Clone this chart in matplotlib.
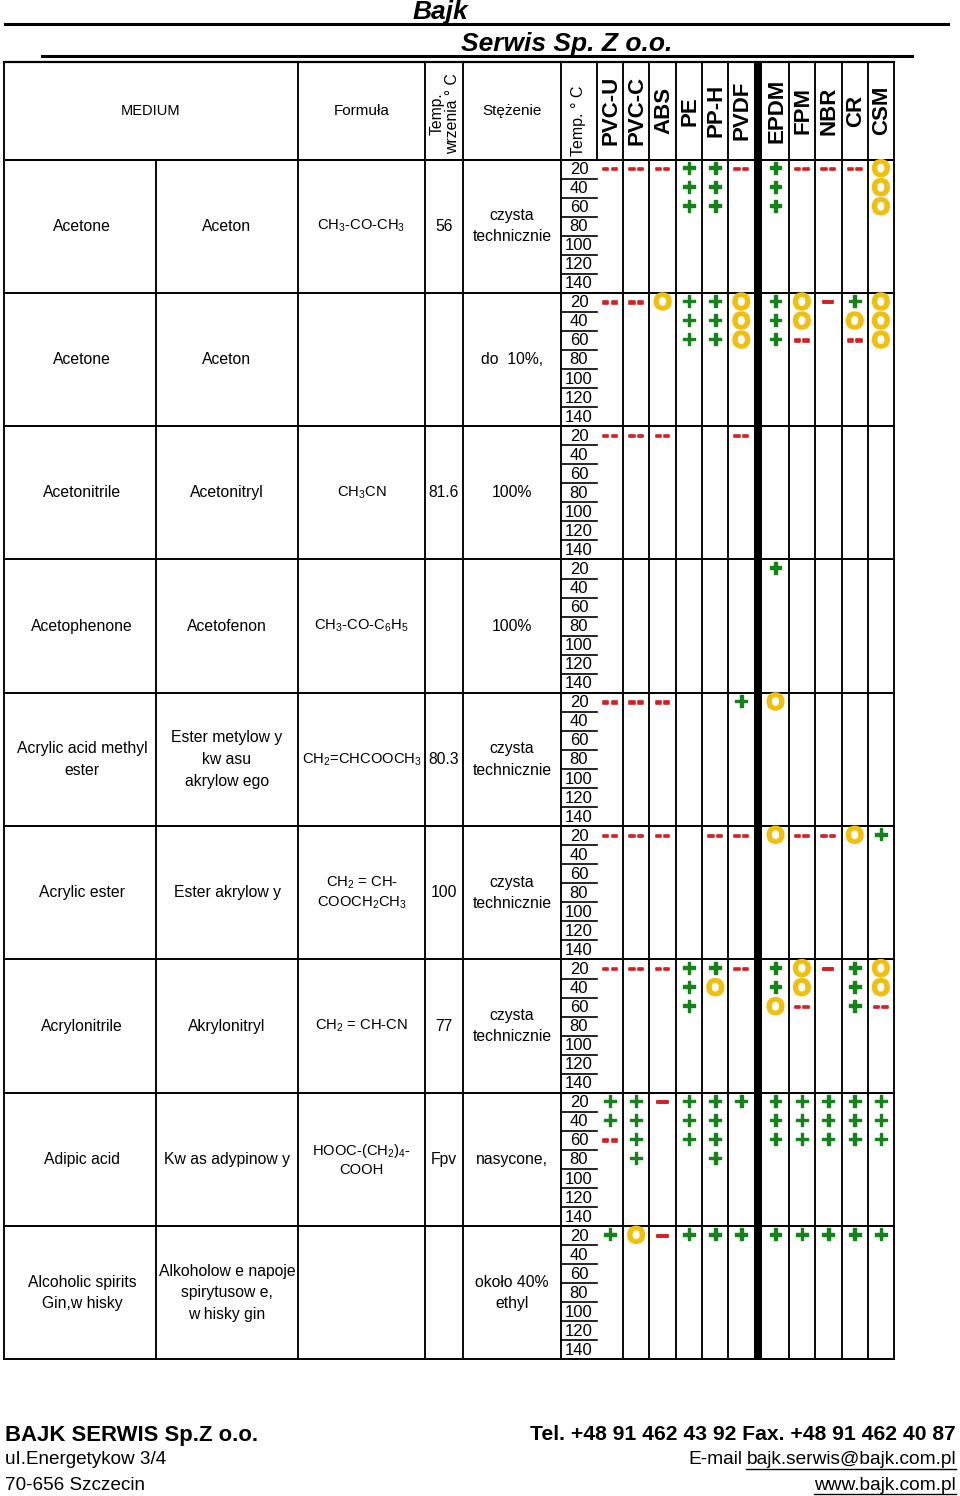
import matplotlib
matplotlib.use("Agg")
import matplotlib.pyplot as plt
import matplotlib.patheffects as pe
from matplotlib.patches import Rectangle

plt.rcParams['font.family'] = ['Liberation Sans', 'DejaVu Sans']
plt.rcParams['mathtext.fontset'] = 'custom'
plt.rcParams['mathtext.rm'] = 'Liberation Sans'
plt.rcParams['mathtext.it'] = 'Liberation Sans:italic'
plt.rcParams['mathtext.bf'] = 'Liberation Sans:bold'

# ---------------- data ----------------
materials = ["PVC-U", "PVC-C", "ABS", "PE", "PP-H", "PVDF", "EPDM", "FPM", "NBR", "CR", "CSM"]
temps = ["20", "40", "60", "80", "100", "120", "140"]

media_en = ["Acetone", "Acetone", "Acetonitrile", "Acetophenone",
            "Acrylic acid methyl\nester", "Acrylic ester", "Acrylonitrile",
            "Adipic acid", "Alcoholic spirits\nGin,w hisky"]
media_pl = ["Aceton", "Aceton", "Acetonitryl", "Acetofenon",
            "Ester metylow y\nkw asu\nakrylow ego", "Ester akrylow y", "Akrylonitryl",
            "Kw as adypinow y", "Alkoholow e napoje\nspirytusow e,\nw hisky gin"]
formulas = [r"CH$_{\mathrm{3}}$-CO-CH$_{\mathrm{3}}$", "", r"CH$_{\mathrm{3}}$CN",
            r"CH$_{\mathrm{3}}$-CO-C$_{\mathrm{6}}$H$_{\mathrm{5}}$",
            r"CH$_{\mathrm{2}}$=CHCOOCH$_{\mathrm{3}}$",
            "CH$_{\\mathrm{2}}$ = CH-\nCOOCH$_{\\mathrm{2}}$CH$_{\\mathrm{3}}$",
            r"CH$_{\mathrm{2}}$ = CH-CN",
            "HOOC-(CH$_{\\mathrm{2}}$)$_{\\mathrm{4}}$-\nCOOH", ""]
boiling = ["56", "", "81.6", "", "80.3", "100", "77", "Fpv", ""]
concentration = ["czysta\ntechnicznie", "do  10%,", "100%", "100%",
                 "czysta\ntechnicznie", "czysta\ntechnicznie", "czysta\ntechnicznie",
                 "nasycone,", "około 40%\nethyl"]

# ratings per medium: rows = temperatures (20, 40, 60, ...), columns = materials
ratings_acetone = [["--", "--", "--", "+", "+", "--", "+", "--", "--", "--", "O"],
                   ["", "", "", "+", "+", "", "+", "", "", "", "O"],
                   ["", "", "", "+", "+", "", "+", "", "", "", "O"]]
ratings_acetone10 = [["--", "--", "O", "+", "+", "O", "+", "O", "-", "+", "O"],
                     ["", "", "", "+", "+", "O", "+", "O", "", "O", "O"],
                     ["", "", "", "+", "+", "O", "+", "--", "", "--", "O"]]
ratings_acetonitrile = [["--", "--", "--", "", "", "--", "", "", "", "", ""]]
ratings_acetophenone = [["", "", "", "", "", "", "+", "", "", "", ""]]
ratings_methylacrylate = [["--", "--", "--", "", "", "+", "O", "", "", "", ""]]
ratings_acrylic_ester = [["--", "--", "--", "", "--", "--", "O", "--", "--", "O", "+"]]
ratings_acrylonitrile = [["--", "--", "--", "+", "+", "--", "+", "O", "-", "+", "O"],
                         ["", "", "", "+", "O", "", "+", "O", "", "+", "O"],
                         ["", "", "", "+", "", "", "O", "--", "", "+", "--"]]
ratings_adipic = [["+", "+", "-", "+", "+", "+", "+", "+", "+", "+", "+"],
                  ["+", "+", "", "+", "+", "", "+", "+", "+", "+", "+"],
                  ["--", "+", "", "+", "+", "", "+", "+", "+", "+", "+"],
                  ["", "+", "", "", "+", "", "", "", "", "", ""]]
ratings_spirits = [["+", "O", "-", "+", "+", "+", "+", "+", "+", "+", "+"]]
ratings = [ratings_acetone, ratings_acetone10, ratings_acetonitrile, ratings_acetophenone,
           ratings_methylacrylate, ratings_acrylic_ester, ratings_acrylonitrile,
           ratings_adipic, ratings_spirits]

# ---------------- layout ----------------
W, H = 960, 1496
fig = plt.figure(figsize=(9.6, 14.96), dpi=100)
ax = fig.add_axes([0, 0, 1, 1])
ax.set_xlim(0, W)
ax.set_ylim(H, 0)
ax.axis('off')

TOP = 62.0
HDR_BOT = 159.5
BLOCK_H = 133.33
SUB_H = BLOCK_H / 7
N = len(media_en)
BOT = HDR_BOT + N * BLOCK_H

x_left = 4
x_en_pl = 156
x_pl_f = 298
x_f_b = 425
x_b_c = 463
x_c_t = 561
x_t_m = 597
mat_edges_a = [597, 623, 649.3, 676, 702.3, 728.3, 754.3]
bar_w = 8.0
mat_edges_b = [762.3, 788.7, 815, 841.7, 867.7, 894]
x_right = 894

mat_centers = [(mat_edges_a[i] + mat_edges_a[i + 1]) / 2 for i in range(6)] + \
              [(mat_edges_b[i] + mat_edges_b[i + 1]) / 2 for i in range(5)]

LW = 1.35
def hline(y, x0, x1, lw=LW):
    ax.plot([x0, x1], [y, y], color='black', lw=lw, solid_capstyle='projecting')
def vline(x, y0, y1, lw=LW):
    ax.plot([x, x], [y0, y1], color='black', lw=lw, solid_capstyle='projecting')

# header lines
hline(TOP, x_left, x_right, 1.6)
hline(HDR_BOT, x_left, x_right, 1.4)
for x in [x_left, x_pl_f, x_f_b, x_b_c, x_c_t, x_t_m] + mat_edges_a[1:-1] + mat_edges_b[1:]:
    vline(x, TOP, HDR_BOT)
# body vertical lines
for x in [x_left, x_en_pl, x_pl_f, x_f_b, x_b_c, x_c_t] + mat_edges_a[1:-1] + mat_edges_b[1:]:
    vline(x, HDR_BOT, BOT)
# thick bar
ax.add_patch(Rectangle((mat_edges_a[-1], TOP), bar_w, BOT - TOP, color='black', lw=0))
# block lines
for b in range(N + 1):
    hline(HDR_BOT + b * BLOCK_H, x_left, x_right, 1.4)

# header text
hy = (TOP + HDR_BOT) / 2
ax.text((x_left + x_pl_f) / 2, hy, "MEDIUM", ha='center', va='center', fontsize=10.5)
ax.text((x_pl_f + x_f_b) / 2, hy, "Formuła", ha='center', va='center', fontsize=11)
ax.text((x_f_b + x_b_c) / 2 + 1, hy + 3, "Temp.\nwrzenia ° C", ha='center', va='center',
        rotation=90, fontsize=11.3, multialignment='center', linespacing=1.05)
ax.text((x_b_c + x_c_t) / 2, hy, "Stężenie", ha='center', va='center', fontsize=11)
ax.text((x_c_t + x_t_m) / 2, hy + 10, "Temp. ° C", ha='center', va='center',
        rotation=90, fontsize=11.5)
for cx, name in zip(mat_centers, materials):
    ax.text(cx + 1, hy, name, ha='center', va='center', rotation=90,
            fontsize=16, fontweight='bold')

# body text
col_cx = [(x_left + x_en_pl) / 2 + 2, (x_en_pl + x_pl_f) / 2, (x_pl_f + x_f_b) / 2,
          (x_f_b + x_b_c) / 2, (x_b_c + x_c_t) / 2]
FS = 11.3
RED, GREEN, YELLOW = '#d42020', '#16821a', '#f0c010'
for b in range(N):
    cy = HDR_BOT + (b + 0.5) * BLOCK_H
    cells = [media_en[b], media_pl[b], formulas[b], boiling[b], concentration[b]]
    for j, (cx, txt) in enumerate(zip(col_cx, cells)):
        if txt:
            if j == 2:
                ax.text(cx, cy, txt, ha='center', va='center', fontsize=10.6,
                        multialignment='center', linespacing=1.3)
            else:
                ax.text(cx, cy, txt, ha='center', va='center', fontsize=FS,
                        multialignment='center', linespacing=1.55)
    # temperature sub column
    for k, t in enumerate(temps):
        sy = HDR_BOT + b * BLOCK_H + (k + 0.5) * SUB_H
        ax.text((x_c_t + x_t_m) / 2, sy + 0.5, t, ha='center', va='center', fontsize=12)
        if k < len(temps) - 1:
            hline(HDR_BOT + b * BLOCK_H + (k + 1) * SUB_H, x_c_t, x_t_m, 1.2)
    # ratings
    for k, row in enumerate(ratings[b]):
        sy = HDR_BOT + b * BLOCK_H + (k + 0.5) * SUB_H
        for cx, s in zip(mat_centers, row):
            if s == "+":
                ax.text(cx, sy, "+", ha='center', va='center', fontsize=17,
                        fontweight='bold', color=GREEN,
                        path_effects=[pe.withStroke(linewidth=1.0, foreground=GREEN)])
            elif s == "O":
                ax.text(cx, sy + 0.5, "O", ha='center', va='center', fontsize=16.5,
                        fontweight='bold', color=YELLOW,
                        path_effects=[pe.withStroke(linewidth=1.6, foreground=YELLOW)])
            elif s == "--":
                for dx in (-4.2, 4.2):
                    ax.text(cx + dx, sy, "-", ha='center', va='center', fontsize=15,
                            fontweight='bold', color=RED,
                            path_effects=[pe.withStroke(linewidth=1.2, foreground=RED)])
            elif s == "-":
                ax.text(cx, sy, "–", ha='center', va='center', fontsize=15,
                        fontweight='bold', color=RED,
                        path_effects=[pe.withStroke(linewidth=1.4, foreground=RED)])

# titles
ax.text(440, 12, "Bajk", ha='center', va='center', fontsize=19, fontweight='bold',
        fontstyle='italic')
hline(24, 5, 948, 2.2)
ax.text(567, 44, "Serwis Sp. Z o.o.", ha='center', va='center', fontsize=19, fontweight='bold',
        fontstyle='italic')
hline(56, 42, 912, 2.2)

# footer
ax.text(5, 1435, "BAJK SERWIS Sp.Z o.o.", ha='left', va='center', fontsize=15.9,
        fontweight='bold')
ax.text(5, 1460, "uI.Energetykow 3/4", ha='left', va='center', fontsize=13.6)
ax.text(5, 1485, "70-656 Szczecin", ha='left', va='center', fontsize=13.6)
ax.text(956, 1435, "Tel. +48 91 462 43 92 Fax. +48 91 462 40 87", ha='right', va='center',
        fontsize=15.2, fontweight='bold')
t_mail = ax.text(956, 1460, "bajk.serwis@bajk.com.pl", ha='right', va='center', fontsize=13.8)
fig.canvas.draw()
bb = t_mail.get_window_extent()
x_mail0 = bb.x0
ax.text(x_mail0 - 4, 1460, "E-mail", ha='right', va='center', fontsize=13.8)
hline(1469, x_mail0, 956, 1.0)
t_www = ax.text(956, 1485, "www.bajk.com.pl", ha='right', va='center', fontsize=13.8)
fig.canvas.draw()
bb2 = t_www.get_window_extent()
hline(1494, bb2.x0, 956, 1.0)

fig.savefig("out.png", dpi=100)
